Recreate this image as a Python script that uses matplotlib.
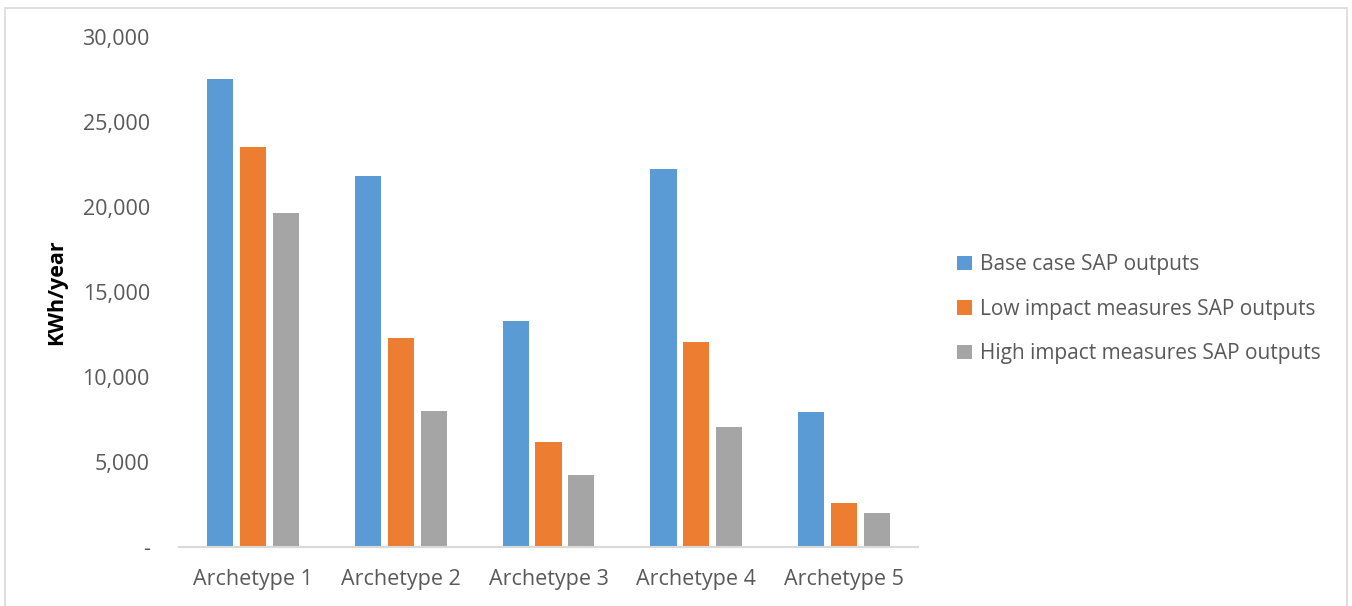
import numpy as np
import matplotlib
matplotlib.use('Agg')
import matplotlib.pyplot as plt
from matplotlib.patches import Rectangle
from matplotlib.ticker import FuncFormatter

archetypes = ['Archetype 1', 'Archetype 2', 'Archetype 3', 'Archetype 4', 'Archetype 5']
base_case = [27530, 21820, 13300, 22240, 7940]
low_impact = [23550, 12300, 6180, 12060, 2590]
high_impact = [19670, 8000, 4240, 7060, 2000]
series_names = ['Base case SAP outputs', 'Low impact measures SAP outputs',
                'High impact measures SAP outputs']
colors = ['#5B9BD5', '#ED7D31', '#A5A5A5']
text_color = '#595959'

plt.rcParams['font.family'] = ['Open Sans', 'DejaVu Sans']

fig = plt.figure(figsize=(13.52, 6.06), dpi=100)
fig.patches.append(Rectangle((0.004, -0.01), 0.992, 0.997, transform=fig.transFigure,
                             fill=False, edgecolor='#D9D9D9', linewidth=1.2))
ax = fig.add_axes([0.1324, 0.0974, 0.5466, 0.8416])

x = np.arange(len(archetypes))
width = 0.176
step = 0.222
for i, (vals, name, c) in enumerate(zip([base_case, low_impact, high_impact],
                                        series_names, colors)):
    ax.bar(x + (i - 1) * step, vals, width, color=c, label=name, zorder=2)

ax.set_xlim(-0.5, len(archetypes) - 0.5)
ax.set_ylim(0, 30000)
ax.set_yticks(np.arange(0, 30001, 5000))
ax.yaxis.set_major_formatter(FuncFormatter(lambda v, p: '-' if v == 0 else f'{v:,.0f}'))
ax.set_xticks(x)
ax.set_xticklabels(archetypes)
ax.tick_params(axis='both', length=0, labelsize=15.5, colors=text_color)
ax.tick_params(axis='y', pad=21)
ax.tick_params(axis='x', pad=16)

for side in ['top', 'right', 'left']:
    ax.spines[side].set_visible(False)
ax.spines['bottom'].set_color('#D9D9D9')
ax.spines['bottom'].set_linewidth(1.5)

ax.set_ylabel('KWh/year', fontsize=15.5, fontweight='bold', color='black', labelpad=11)

ax.legend(loc='center left', bbox_to_anchor=(1.028, 0.466), frameon=False,
          fontsize=15, labelcolor=text_color, handlelength=0.7, handleheight=0.7,
          handletextpad=0.4, labelspacing=1.12)

fig.savefig('out.png', dpi=100)
